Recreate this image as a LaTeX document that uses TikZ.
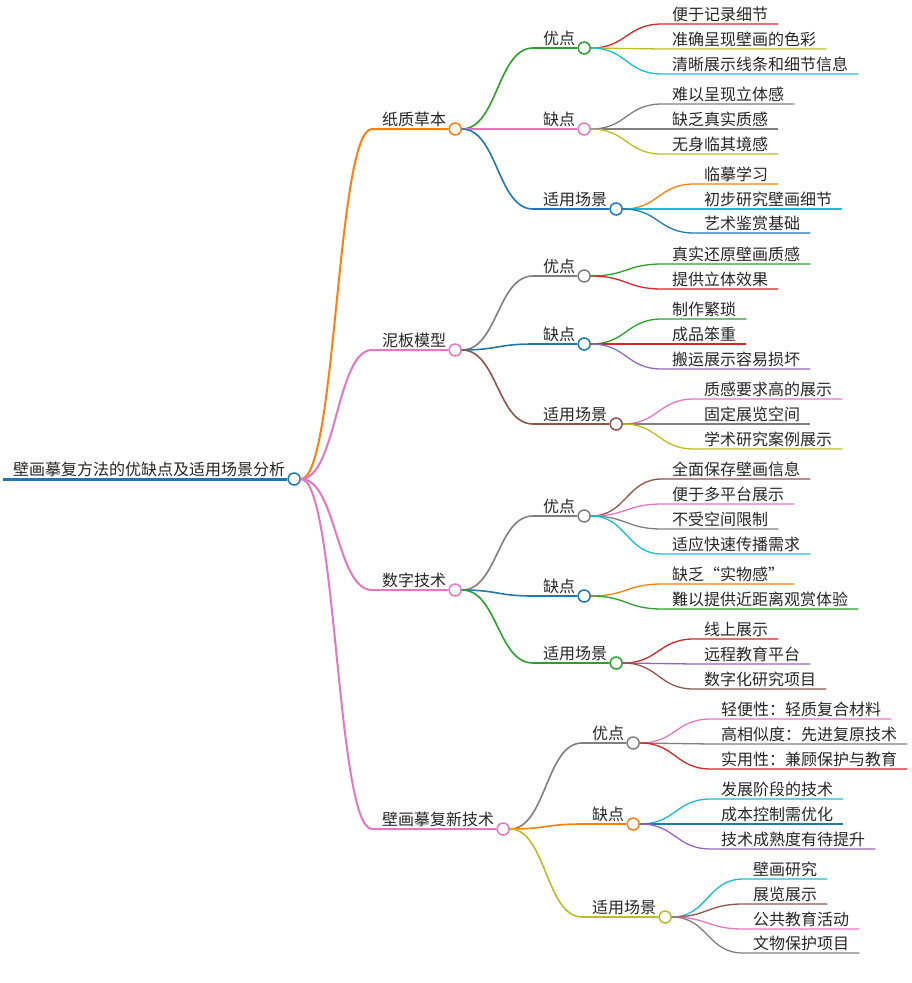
\documentclass[tikz,border=0pt]{standalone}
\usepackage{fontspec}
\setmainfont{Noto Sans CJK SC}
\usetikzlibrary{calc,positioning}

\definecolor{cblue}{HTML}{1F77B4}
\definecolor{corange}{HTML}{FF7F0E}
\definecolor{cgreen}{HTML}{2CA02C}
\definecolor{cred}{HTML}{D62728}
\definecolor{cpurple}{HTML}{9467BD}
\definecolor{cbrown}{HTML}{8C564B}
\definecolor{cpink}{HTML}{E377C2}
\definecolor{cgray}{HTML}{7F7F7F}
\definecolor{colive}{HTML}{BCBD22}
\definecolor{ccyan}{HTML}{17BECF}

\tikzstyle{txt} = [anchor=south west, inner xsep=10pt, inner ysep=2pt, text=black!85, font=\fontsize{16}{19}\selectfont]
\tikzstyle{bub} = [circle, draw, fill=white, line width=1.5pt, minimum size=12pt, inner sep=0pt]
\tikzstyle{branch} = [to path={let \p1=(\tikztostart), \p2=(\tikztotarget) in .. controls ({(\x1+\x2)/2},\y1) and ({(\x1+\x2)/2},\y2) .. (\tikztotarget)}]
\tikzstyle{lv1} = [line width=2pt]
\tikzstyle{lv2} = [line width=1.6pt]
\tikzstyle{lv3} = [line width=1.3pt]

\begin{document}
\begin{tikzpicture}[x=1pt, y=-1pt]
      \useasboundingbox (0,0) rectangle (911,983);
      % root
      \node[txt] (r) at (3,479) {壁画摹复方法的优缺点及适用场景分析};
      \node[bub, draw=cblue, right=-8pt of r.south east] (ro) {};
      % first level
      \node[txt] (a) at (372,129) {纸质草本};
      \node[bub, draw=corange, right=-8pt of a.south east] (ao) {};
      \node[txt] (b) at (372,350) {泥板模型};
      \node[bub, draw=cpink, right=-8pt of b.south east] (bo) {};
      \node[txt] (c) at (372,590) {数字技术};
      \node[bub, draw=cpink, right=-8pt of c.south east] (co) {};
      \node[txt] (d) at (372,829) {壁画摹复新技术};
      \node[bub, draw=cpink, right=-8pt of d.south east] (do) {};
      % second level
      \node[txt] (a1) at (533,48) {优点};
      \node[bub, draw=cgreen, right=-8pt of a1.south east] (a1o) {};
      \node[txt] (a2) at (533,129) {缺点};
      \node[bub, draw=cpink, right=-8pt of a2.south east] (a2o) {};
      \node[txt] (a3) at (533,209) {适用场景};
      \node[bub, draw=cblue, right=-8pt of a3.south east] (a3o) {};
      \node[txt] (b1) at (533,276) {优点};
      \node[bub, draw=cgray, right=-8pt of b1.south east] (b1o) {};
      \node[txt] (b2) at (533,344) {缺点};
      \node[bub, draw=cblue, right=-8pt of b2.south east] (b2o) {};
      \node[txt] (b3) at (533,424) {适用场景};
      \node[bub, draw=cbrown, right=-8pt of b3.south east] (b3o) {};
      \node[txt] (c1) at (533,516) {优点};
      \node[bub, draw=cgray, right=-8pt of c1.south east] (c1o) {};
      \node[txt] (c2) at (533,596) {缺点};
      \node[bub, draw=cblue, right=-8pt of c2.south east] (c2o) {};
      \node[txt] (c3) at (533,663) {适用场景};
      \node[bub, draw=cgreen, right=-8pt of c3.south east] (c3o) {};
      \node[txt] (d1) at (582,743) {优点};
      \node[bub, draw=cgray, right=-8pt of d1.south east] (d1o) {};
      \node[txt] (d2) at (582,824) {缺点};
      \node[bub, draw=corange, right=-8pt of d2.south east] (d2o) {};
      \node[txt] (d3) at (582,917) {适用场景};
      \node[bub, draw=colive, right=-8pt of d3.south east] (d3o) {};
      % leaves
      \node[txt] (a11) at (662,24) {便于记录细节};
      \node[txt] (a12) at (662,49) {准确呈现壁画的色彩};
      \node[txt] (a13) at (662,74) {清晰展示线条和细节信息};
      \node[txt] (a21) at (662,104) {难以呈现立体感};
      \node[txt] (a22) at (662,129) {缺乏真实质感};
      \node[txt] (a23) at (662,154) {无身临其境感};
      \node[txt] (a31) at (694,184) {临摹学习};
      \node[txt] (a32) at (694,209) {初步研究壁画细节};
      \node[txt] (a33) at (694,233) {艺术鉴赏基础};
      \node[txt] (b11) at (662,264) {真实还原壁画质感};
      \node[txt] (b12) at (662,289) {提供立体效果};
      \node[txt] (b21) at (662,319) {制作繁琐};
      \node[txt] (b22) at (662,344) {成品笨重};
      \node[txt] (b23) at (662,369) {搬运展示容易损坏};
      \node[txt] (b31) at (694,399) {质感要求高的展示};
      \node[txt] (b32) at (694,424) {固定展览空间};
      \node[txt] (b33) at (694,449) {学术研究案例展示};
      \node[txt] (c11) at (662,479) {全面保存壁画信息};
      \node[txt] (c12) at (662,504) {便于多平台展示};
      \node[txt] (c13) at (662,529) {不受空间限制};
      \node[txt] (c14) at (662,554) {适应快速传播需求};
      \node[txt] (c21) at (662,584) {缺乏“实物感”};
      \node[txt] (c22) at (662,609) {難以提供近距离观赏体验};
      \node[txt] (c31) at (694,639) {线上展示};
      \node[txt] (c32) at (694,664) {远程教育平台};
      \node[txt] (c33) at (694,689) {数字化研究项目};
      \node[txt] (d11) at (711,719) {轻便性：轻质复合材料};
      \node[txt] (d12) at (711,744) {高相似度：先进复原技术};
      \node[txt] (d13) at (711,769) {实用性：兼顾保护与教育};
      \node[txt] (d21) at (711,799) {发展阶段的技术};
      \node[txt] (d22) at (711,824) {成本控制需优化};
      \node[txt] (d23) at (711,849) {技术成熟度有待提升};
      \node[txt] (d31) at (743,879) {壁画研究};
      \node[txt] (d32) at (743,904) {展览展示};
      \node[txt] (d33) at (743,929) {公共教育活动};
      \node[txt] (d34) at (743,953) {文物保护项目};
      % connectors
      \draw[cblue, line width=3pt] (r.south west) -- (ro.west);
      \draw[corange, lv1] (ro.east) to[branch] (a.south west) -- (ao.west);
      \draw[cpink, lv1] (ro.east) to[branch] (b.south west) -- (bo.west);
      \draw[cpink, lv1] (ro.east) to[branch] (c.south west) -- (co.west);
      \draw[cpink, lv1] (ro.east) to[branch] (d.south west) -- (do.west);
      \draw[cgreen, lv2] (ao.east) to[branch] (a1.south west) -- (a1o.west);
      \draw[cpink, lv2] (ao.east) to[branch] (a2.south west) -- (a2o.west);
      \draw[cblue, lv2] (ao.east) to[branch] (a3.south west) -- (a3o.west);
      \draw[cgray, lv2] (bo.east) to[branch] (b1.south west) -- (b1o.west);
      \draw[cblue, lv2] (bo.east) to[branch] (b2.south west) -- (b2o.west);
      \draw[cbrown, lv2] (bo.east) to[branch] (b3.south west) -- (b3o.west);
      \draw[cgray, lv2] (co.east) to[branch] (c1.south west) -- (c1o.west);
      \draw[cblue, lv2] (co.east) to[branch] (c2.south west) -- (c2o.west);
      \draw[cgreen, lv2] (co.east) to[branch] (c3.south west) -- (c3o.west);
      \draw[cgray, lv2] (do.east) to[branch] (d1.south west) -- (d1o.west);
      \draw[corange, lv2] (do.east) to[branch] (d2.south west) -- (d2o.west);
      \draw[colive, lv2] (do.east) to[branch] (d3.south west) -- (d3o.west);
      \draw[cred, lv3] (a1o.east) to[branch] (a11.south west) -- (a11.south east);
      \draw[colive, lv3] (a1o.east) to[branch] (a12.south west) -- (a12.south east);
      \draw[ccyan, lv3] (a1o.east) to[branch] (a13.south west) -- (a13.south east);
      \draw[cgray, lv3] (a2o.east) to[branch] (a21.south west) -- (a21.south east);
      \draw[cgray, lv3] (a2o.east) to[branch] (a22.south west) -- (a22.south east);
      \draw[colive, lv3] (a2o.east) to[branch] (a23.south west) -- (a23.south east);
      \draw[corange, lv3] (a3o.east) to[branch] (a31.south west) -- (a31.south east);
      \draw[ccyan, lv3] (a3o.east) to[branch] (a32.south west) -- (a32.south east);
      \draw[cblue, lv3] (a3o.east) to[branch] (a33.south west) -- (a33.south east);
      \draw[cgreen, lv3] (b1o.east) to[branch] (b11.south west) -- (b11.south east);
      \draw[cred, lv3] (b1o.east) to[branch] (b12.south west) -- (b12.south east);
      \draw[cgreen, lv3] (b2o.east) to[branch] (b21.south west) -- (b21.south east);
      \draw[cred, lv3] (b2o.east) to[branch] (b22.south west) -- (b22.south east);
      \draw[cpurple, lv3] (b2o.east) to[branch] (b23.south west) -- (b23.south east);
      \draw[cpink, lv3] (b3o.east) to[branch] (b31.south west) -- (b31.south east);
      \draw[cgray, lv3] (b3o.east) to[branch] (b32.south west) -- (b32.south east);
      \draw[colive, lv3] (b3o.east) to[branch] (b33.south west) -- (b33.south east);
      \draw[cbrown, lv3] (c1o.east) to[branch] (c11.south west) -- (c11.south east);
      \draw[cpink, lv3] (c1o.east) to[branch] (c12.south west) -- (c12.south east);
      \draw[cgray, lv3] (c1o.east) to[branch] (c13.south west) -- (c13.south east);
      \draw[ccyan, lv3] (c1o.east) to[branch] (c14.south west) -- (c14.south east);
      \draw[corange, lv3] (c2o.east) to[branch] (c21.south west) -- (c21.south east);
      \draw[cgreen, lv3] (c2o.east) to[branch] (c22.south west) -- (c22.south east);
      \draw[cred, lv3] (c3o.east) to[branch] (c31.south west) -- (c31.south east);
      \draw[cpurple, lv3] (c3o.east) to[branch] (c32.south west) -- (c32.south east);
      \draw[cbrown, lv3] (c3o.east) to[branch] (c33.south west) -- (c33.south east);
      \draw[cpink, lv3] (d1o.east) to[branch] (d11.south west) -- (d11.south east);
      \draw[cgray, lv3] (d1o.east) to[branch] (d12.south west) -- (d12.south east);
      \draw[cred, lv3] (d1o.east) to[branch] (d13.south west) -- (d13.south east);
      \draw[ccyan, lv3] (d2o.east) to[branch] (d21.south west) -- (d21.south east);
      \draw[cblue, lv3] (d2o.east) to[branch] (d22.south west) -- (d22.south east);
      \draw[cpurple, lv3] (d2o.east) to[branch] (d23.south west) -- (d23.south east);
      \draw[ccyan, lv3] (d3o.east) to[branch] (d31.south west) -- (d31.south east);
      \draw[cbrown, lv3] (d3o.east) to[branch] (d32.south west) -- (d32.south east);
      \draw[cpink, lv3] (d3o.east) to[branch] (d33.south west) -- (d33.south east);
      \draw[cgray, lv3] (d3o.east) to[branch] (d34.south west) -- (d34.south east);
    \end{tikzpicture}
\end{document}
